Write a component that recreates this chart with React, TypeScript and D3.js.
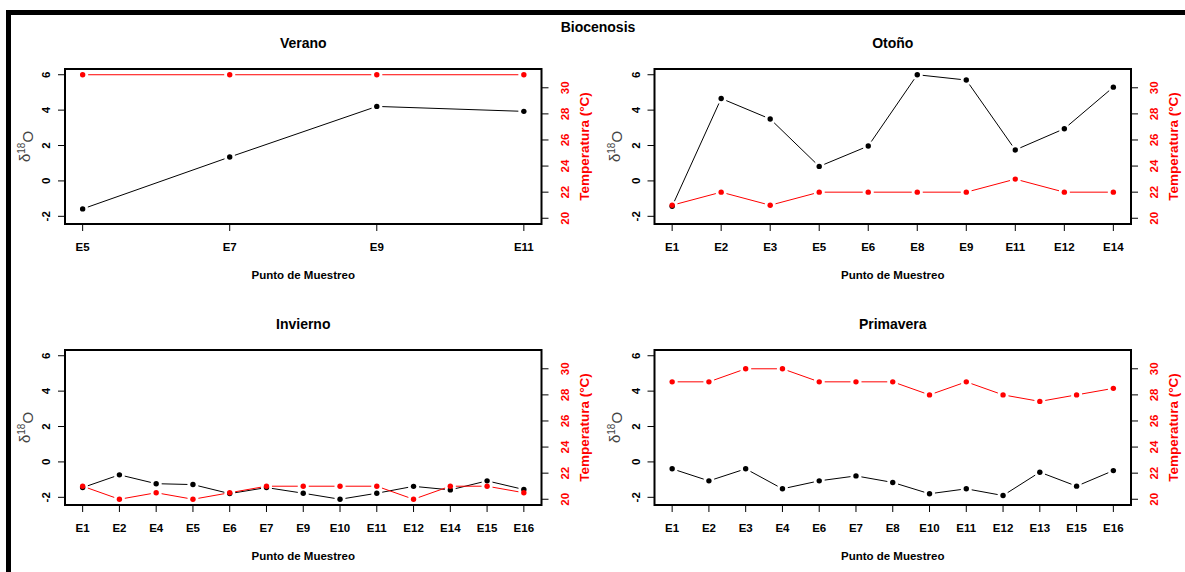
import React from "react";
import * as d3 from "d3";

// Sampling points and measurements per season
const veranoSites = ["E5", "E7", "E9", "E11"];
const veranoD18O = [-1.58, 1.35, 4.21, 3.93];
const veranoTemp = [31, 31, 31, 31];

const otonoSites = ["E1", "E2", "E3", "E5", "E6", "E8", "E9", "E11", "E12", "E14"];
const otonoD18O = [-1.43, 4.66, 3.5, 0.82, 1.97, 6.0, 5.7, 1.75, 2.95, 5.3];
const otonoTemp = [21, 22, 21, 22, 22, 22, 22, 23, 22, 22];

const inviernoSites = ["E1", "E2", "E4", "E5", "E6", "E7", "E9", "E10", "E11", "E12", "E14", "E15", "E16"];
const inviernoD18O = [-1.45, -0.73, -1.23, -1.28, -1.79, -1.45, -1.77, -2.11, -1.77, -1.38, -1.58, -1.07, -1.56];
const inviernoTemp = [21, 20, 20.5, 20, 20.5, 21, 21, 21, 21, 20, 21, 21, 20.5];

const primaveraSites = ["E1", "E2", "E3", "E4", "E6", "E7", "E8", "E10", "E11", "E12", "E13", "E15", "E16"];
const primaveraD18O = [-0.39, -1.07, -0.39, -1.52, -1.07, -0.79, -1.16, -1.8, -1.52, -1.9, -0.58, -1.37, -0.49];
const primaveraTemp = [29, 29, 30, 30, 29, 29, 29, 28, 29, 28, 27.5, 28, 28.5];

const leftTicks = [-2, 0, 2, 4, 6];
const rightTicks = [20, 22, 24, 26, 28, 30];

const FONT = "'Liberation Sans', Arial, Helvetica, sans-serif";
const W = 476.5;
const H = 155;
const GAP = 5.5;

// shared y ranges across the four panels, padded 4% like base graphics
const pad = (ext: [number, number]): [number, number] => {
  const r = ext[1] - ext[0];
  return [ext[0] - 0.04 * r, ext[1] + 0.04 * r];
};
const allD = [...veranoD18O, ...otonoD18O, ...inviernoD18O, ...primaveraD18O];
const allT = [...veranoTemp, ...otonoTemp, ...inviernoTemp, ...primaveraTemp];
const dDomain = pad(d3.extent(allD) as [number, number]);
const tDomain = pad(d3.extent(allT) as [number, number]);

type P = [number, number];

// line segments with gaps around the points (type "b")
function gappedPath(pts: P[]): string {
  let d = "";
  for (let i = 0; i < pts.length - 1; i++) {
    const [x1, y1] = pts[i];
    const [x2, y2] = pts[i + 1];
    const len = Math.hypot(x2 - x1, y2 - y1);
    if (len <= 2 * GAP) continue;
    const ux = (x2 - x1) / len;
    const uy = (y2 - y1) / len;
    d += `M${x1 + ux * GAP},${y1 + uy * GAP}L${x2 - ux * GAP},${y2 - uy * GAP}`;
  }
  return d;
}

function Panel(props: {
  title: string;
  sites: string[];
  d18o: number[];
  temp: number[];
  left: number;
  top: number;
}) {
  const { title, sites, d18o, temp, left, top } = props;
  const n = sites.length;
  const span = n - 1;
  const x = d3.scaleLinear().domain([-0.04 * span, span * 1.04]).range([left, left + W]);
  const yD = d3.scaleLinear().domain(dDomain).range([top + H, top]);
  const yT = d3.scaleLinear().domain(tDomain).range([top + H, top]);
  const bottom = top + H;
  const right = left + W;
  const ptsD: P[] = d18o.map((v, i) => [x(i), yD(v)]);
  const ptsT: P[] = temp.map((v, i) => [x(i), yT(v)]);
  const midY = top + H / 2;

  return (
    <g>
      <text x={left + W / 2} y={top - 21.5} textAnchor="middle" fontWeight="bold" fontSize={14} fontFamily={FONT}>
        {title}
      </text>

      {/* delta series */}
      <path d={gappedPath(ptsD)} stroke="#000" strokeWidth={1} fill="none" />
      {ptsD.map((p, i) => (
        <circle key={"d" + i} cx={p[0]} cy={p[1]} r={2.7} fill="#000" />
      ))}

      {/* temperature series */}
      <path d={gappedPath(ptsT)} stroke="#ff0000" strokeWidth={1} fill="none" />
      {ptsT.map((p, i) => (
        <circle key={"t" + i} cx={p[0]} cy={p[1]} r={2.7} fill="#ff0000" />
      ))}

      <rect x={left} y={top} width={W} height={H} fill="none" stroke="#000" strokeWidth={2} />

      {/* bottom axis */}
      {sites.map((s, i) => (
        <g key={s}>
          <line x1={x(i)} x2={x(i)} y1={bottom} y2={bottom + 7} stroke="#000" strokeWidth={1} />
          <text x={x(i)} y={bottom + 27} textAnchor="middle" fontWeight="bold" fontSize={11.5} fontFamily={FONT}>
            {s}
          </text>
        </g>
      ))}
      <text x={left + W / 2} y={bottom + 54.5} textAnchor="middle" fontWeight="bold" fontSize={11.5} fontFamily={FONT}>
        Punto de Muestreo
      </text>

      {/* left axis */}
      {leftTicks.map((t) => (
        <g key={"l" + t}>
          <line x1={left - 7} x2={left} y1={yD(t)} y2={yD(t)} stroke="#000" strokeWidth={1} />
          <text
            transform={`translate(${left - 19},${yD(t)}) rotate(-90)`}
            dy="0.35em"
            textAnchor="middle"
            fontWeight="bold"
            fontSize={11.5}
            fontFamily={FONT}
          >
            {t}
          </text>
        </g>
      ))}
      <text
        transform={`translate(${left - 40},${midY}) rotate(-90)`}
        dy="0.35em"
        textAnchor="middle"
        fontSize={15}
        fill="#444"
        fontFamily={FONT}
      >
        δ<tspan dy="-0.5em" fontSize={10}>18</tspan>
        <tspan dy="0.5em">O</tspan>
      </text>

      {/* right axis */}
      {rightTicks.map((t) => (
        <g key={"r" + t}>
          <line x1={right} x2={right + 7} y1={yT(t)} y2={yT(t)} stroke="#000" strokeWidth={1} />
          <text
            transform={`translate(${right + 23},${yT(t)}) rotate(-90)`}
            dy="0.35em"
            textAnchor="middle"
            fontWeight="bold"
            fontSize={11.5}
            fill="#ff0000"
            fontFamily={FONT}
          >
            {t}
          </text>
        </g>
      ))}
      <text
        transform={`translate(${right + 42.5},${midY}) rotate(-90)`}
        dy="0.35em"
        textAnchor="middle"
        fontWeight="bold"
        fontSize={13.5}
        fill="#ff0000"
        fontFamily={FONT}
      >
        Temperatura (°C)
      </text>
    </g>
  );
}

export default function App() {
  return (
    <svg
      width={1185}
      height={572}
      style={{ position: "absolute", left: 0, top: 0, background: "#fff" }}
    >
      <rect x={0} y={0} width={1185} height={572} fill="#fff" />
      {/* frame */}
      <line x1={6} x2={1185} y1={12.5} y2={12.5} stroke="#000" strokeWidth={5} />
      <line x1={8.5} x2={8.5} y1={10} y2={572} stroke="#000" strokeWidth={5} />

      <text x={598} y={32} textAnchor="middle" fontWeight="bold" fontSize={14} fontFamily={FONT}>
        Biocenosis
      </text>

      <Panel title="Verano" sites={veranoSites} d18o={veranoD18O} temp={veranoTemp} left={65} top={69} />
      <Panel title="Otoño" sites={otonoSites} d18o={otonoD18O} temp={otonoTemp} left={654.5} top={69} />
      <Panel title="Invierno" sites={inviernoSites} d18o={inviernoD18O} temp={inviernoTemp} left={65} top={350} />
      <Panel title="Primavera" sites={primaveraSites} d18o={primaveraD18O} temp={primaveraTemp} left={654.5} top={350} />
    </svg>
  );
}
